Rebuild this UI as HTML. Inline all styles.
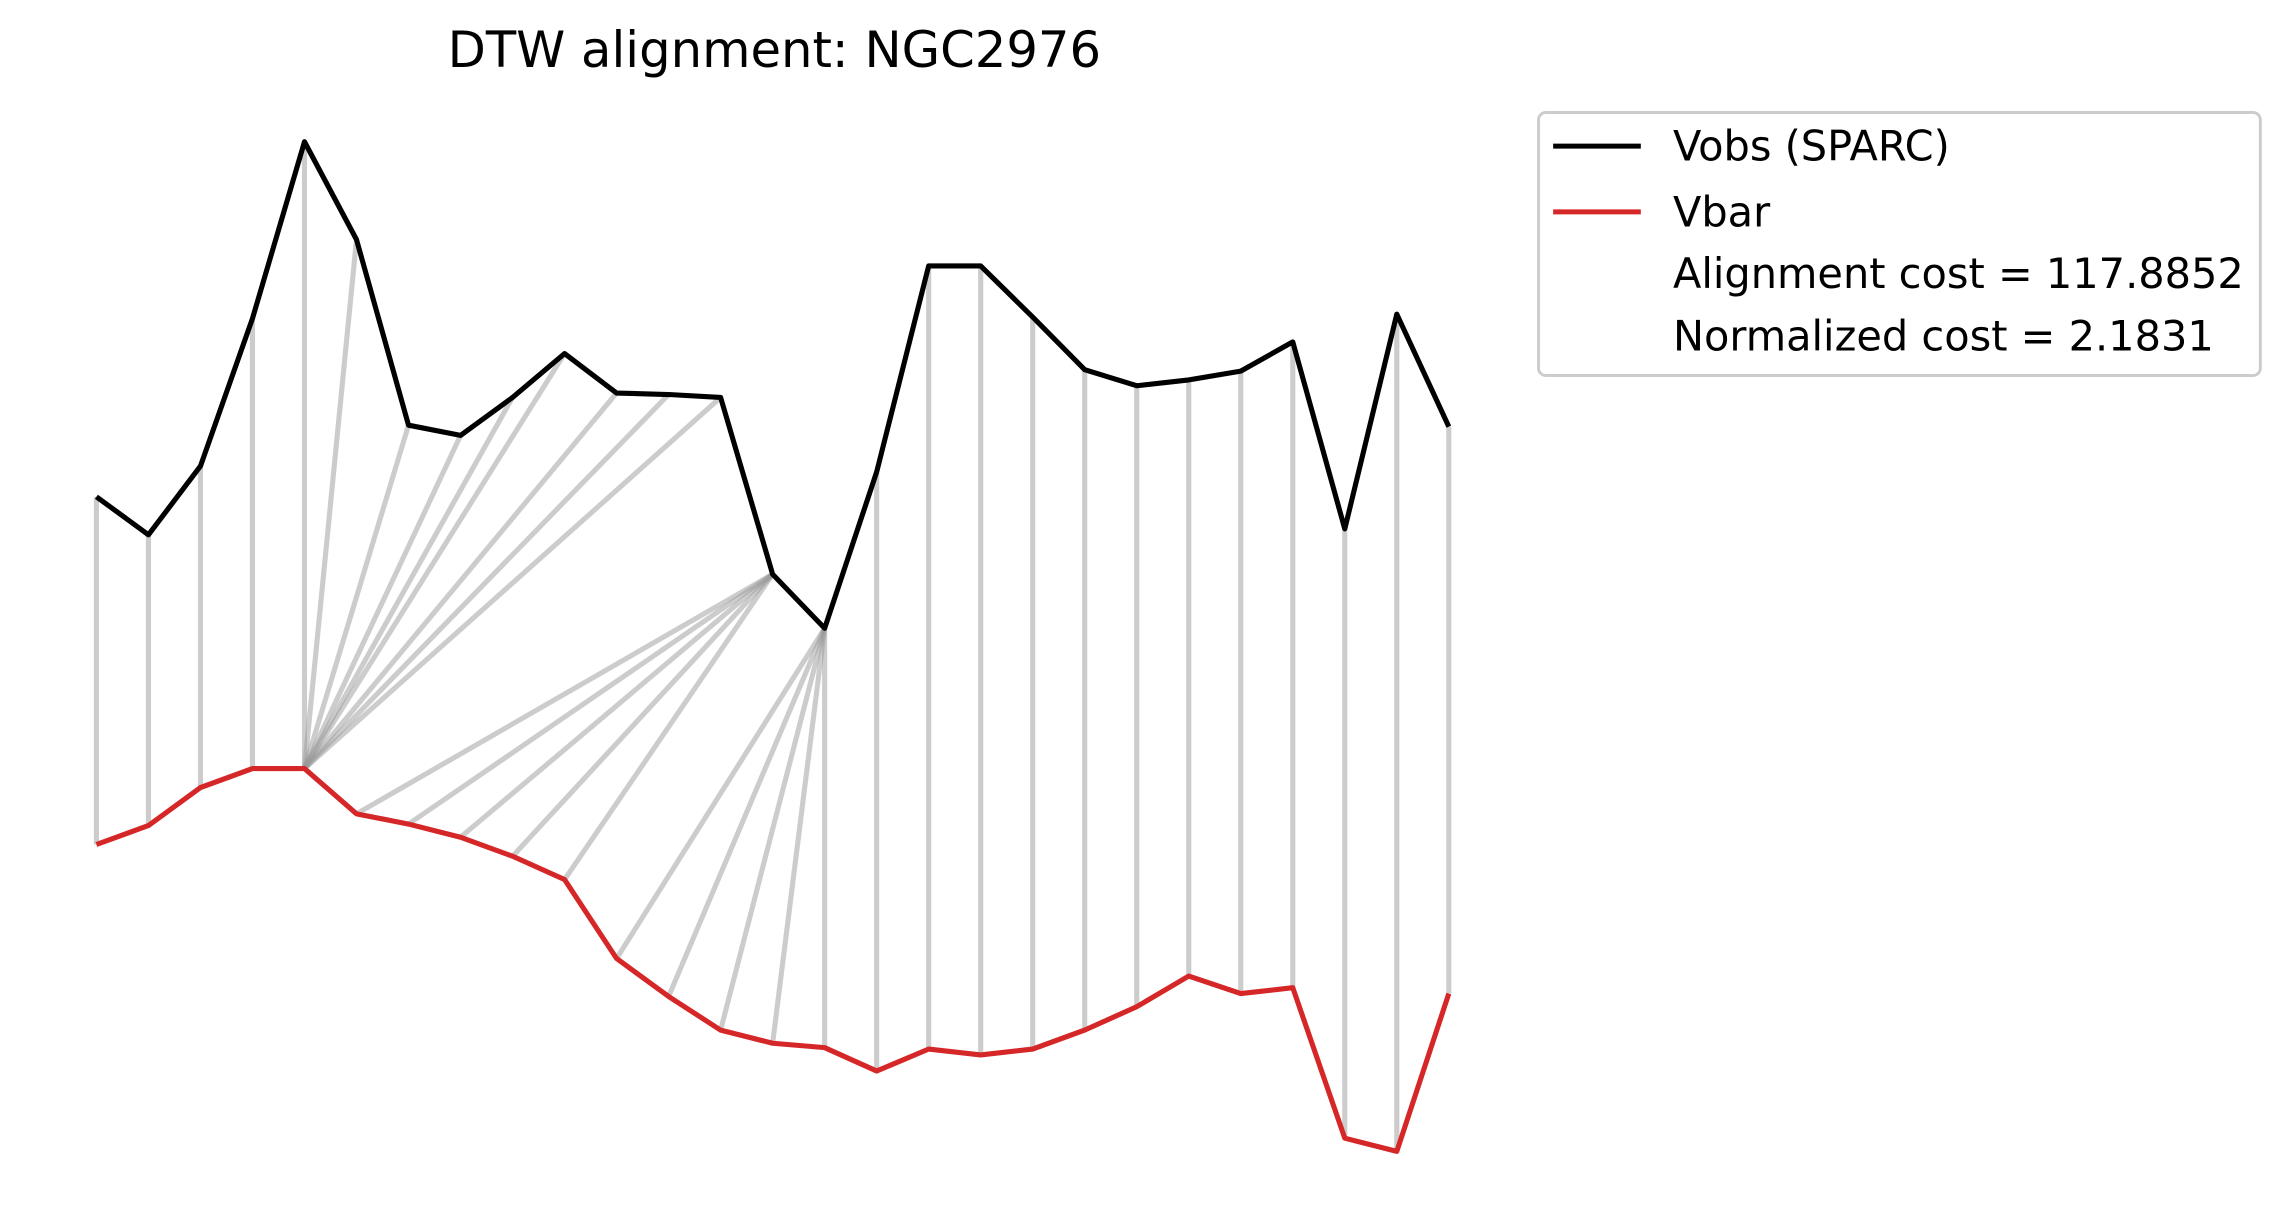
<!DOCTYPE html>
<html><head><meta charset="utf-8"><style>
html,body{margin:0;padding:0;background:#fff;}
svg{display:block;font-family:"DejaVu Sans","Liberation Sans",sans-serif;}
</style></head><body>
<svg id="chart" width="2291" height="1231" viewBox="0 0 1568 842.5" xmlns="http://www.w3.org/2000/svg">
<text x="530" y="46" font-size="34" text-anchor="middle" fill="#000">DTW alignment: NGC2976</text>
<g id="links"></g>
<g id="series"></g>
<g>
<rect x="1053" y="77" width="494" height="180" rx="5" fill="#fff" stroke="#ccc" stroke-width="2"/>
<line x1="1063" y1="100" x2="1123" y2="100" stroke="#000" stroke-width="3.5"/>
<text x="1145" y="110" font-size="28.4">Vobs (SPARC)</text>
<line x1="1063" y1="145" x2="1123" y2="145" stroke="#d62728" stroke-width="3.5"/>
<text x="1145" y="155" font-size="28.4">Vbar</text>
<text x="1145" y="197" font-size="28.4">Alignment cost = 117.8852</text>
<text x="1145" y="240" font-size="28.4">Normalized cost = 2.1831</text>
</g>
</svg>
<script>
const vobs=[503,477,524,625,746,679,552,545,571,601,574,573,571,450,413,520,661,661,626,590,579,583,589,609,481,628,551];
const vbar=[265,278,304,317,317,286,279,270,257,241,187,161,138,129,126,110,125,121,125,138,154,175,163,167,64,55,163];
const pathI=[0,1,2,3,4,5,6,7,8,9,10,11,12,13,13,13,13,13,14,14,14,14,14,15,16,17,18,19,20,21,22,23,24,25,26];
const pathJ=[0,1,2,3,4,4,4,4,4,4,4,4,4,5,6,7,8,9,10,11,12,13,14,15,16,17,18,19,20,21,22,23,24,25,26];
const NS="http://www.w3.org/2000/svg";
function xs(i){return 66+i*35.6;}
function ys(v){return 843-v;}
const links=document.getElementById('links');
for(let k=0;k<pathI.length;k++){
  const l=document.createElementNS(NS,'line');
  
  
  l.setAttribute('x1',xs(pathI[k]));l.setAttribute('y1',ys(vobs[pathI[k]]));
  l.setAttribute('x2',xs(pathJ[k]));l.setAttribute('y2',ys(vbar[pathJ[k]]));
  l.setAttribute('stroke','#999');l.setAttribute('stroke-opacity','0.5');l.setAttribute('stroke-width','3.5');
  links.appendChild(l);
}
const series=document.getElementById('series');
function poly(arr,color,name){
  const p=document.createElementNS(NS,'polyline');
  
  
  p.setAttribute('points',arr.map((v,i)=>xs(i)+','+ys(v)).join(' '));
  p.setAttribute('fill','none');p.setAttribute('stroke',color);p.setAttribute('stroke-width','3.5');
  p.setAttribute('stroke-linejoin','round');
  series.appendChild(p);
}
poly(vobs,'#000','vobs-line');
poly(vbar,'#d62728','vbar-line');
</script>
</body></html>
